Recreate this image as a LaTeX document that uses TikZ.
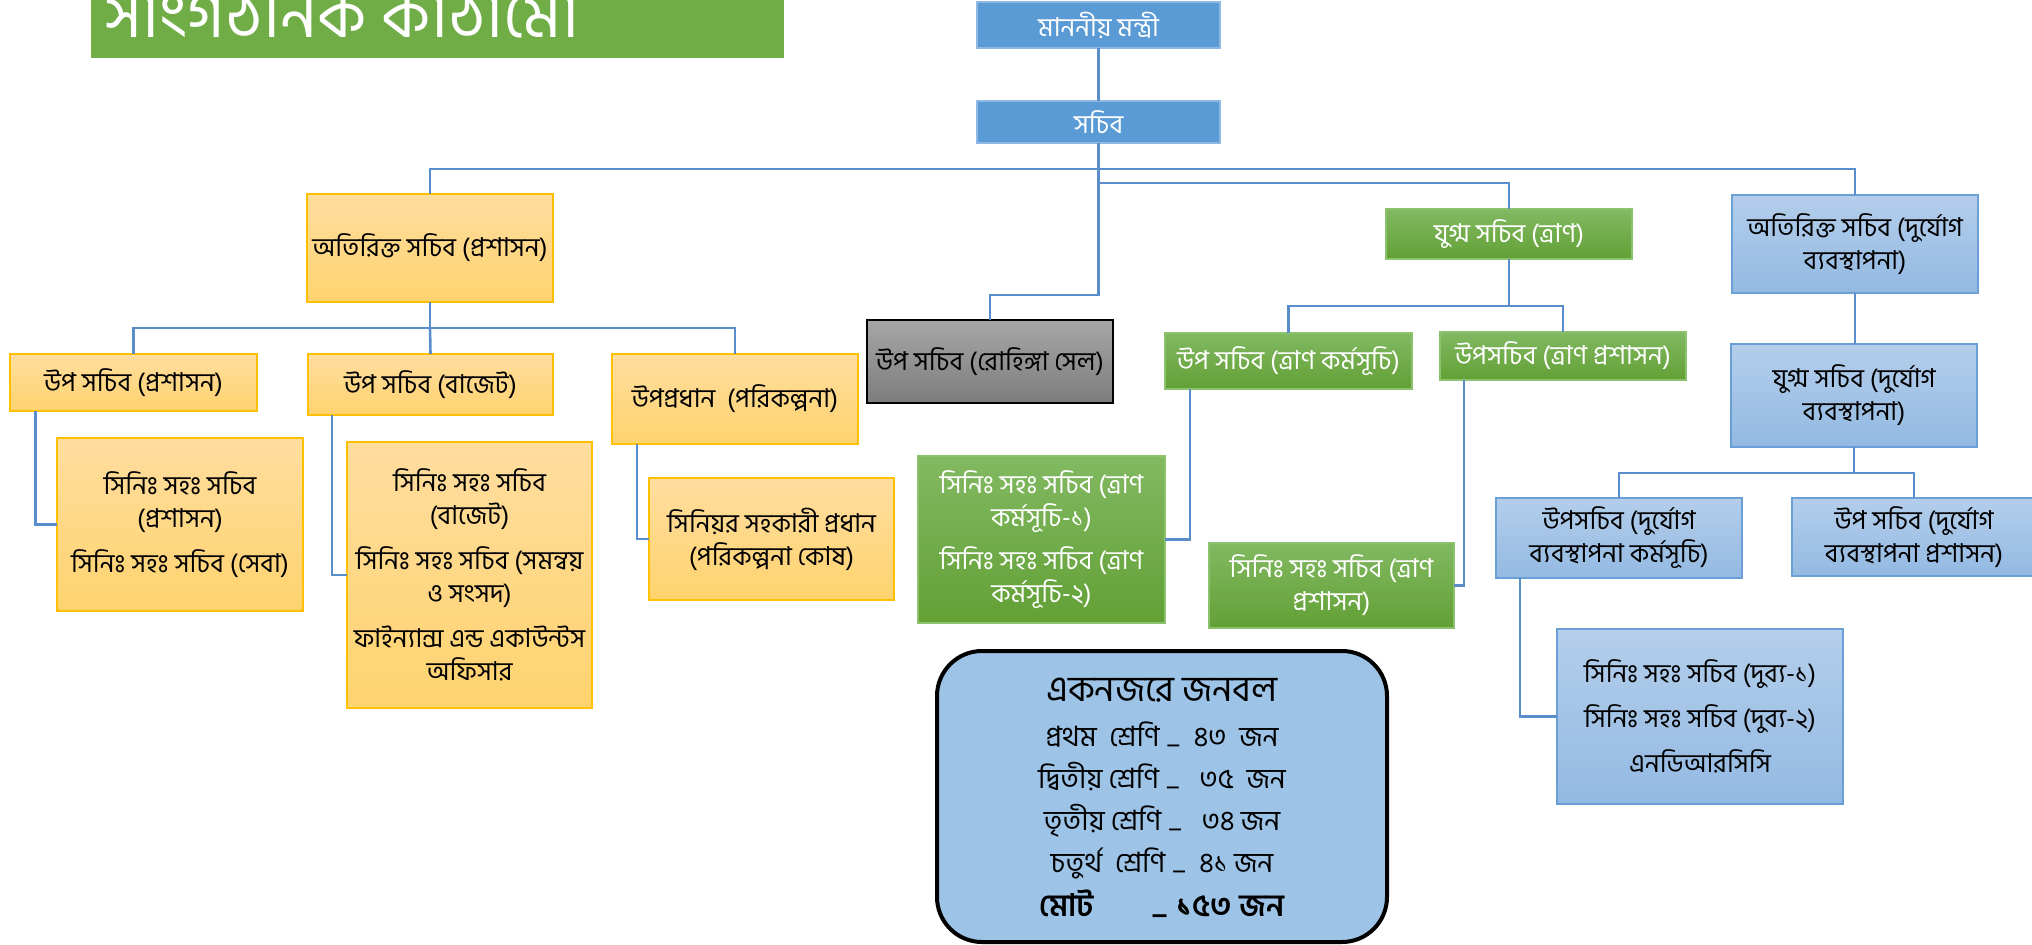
\documentclass[tikz,border=0pt]{standalone}
\usepackage{fontspec}
\newfontfamily\bn[Script=Bengali]{Hind Siliguri}
\usetikzlibrary{calc}
\definecolor{topblue}{HTML}{5B9BD5}
\definecolor{topedge}{HTML}{8FB8E3}
\definecolor{conn}{HTML}{5A8DCB}
\definecolor{orgT}{HTML}{FFDD9F}
\definecolor{orgB}{HTML}{FFD36E}
\definecolor{orgD}{HTML}{FFC000}
\definecolor{grnT}{HTML}{82B962}
\definecolor{grnB}{HTML}{62A035}
\definecolor{grnD}{HTML}{8CC26D}
\definecolor{lbT}{HTML}{B4CEEB}
\definecolor{lbB}{HTML}{93B9E2}
\definecolor{lbD}{HTML}{6A9FD8}
\definecolor{gryT}{HTML}{A6A6A6}
\definecolor{gryB}{HTML}{7D7D7D}
\definecolor{sumfill}{HTML}{9DC3E6}
\definecolor{titlegreen}{HTML}{70AD47}
\newcommand\lbl{\bn\fontsize{26}{33}\selectfont}
\newcommand\lowdash{\raisebox{-0.25em}{–}}
\tikzset{
  box/.style={rectangle, inner sep=0pt, outer sep=0pt, align=center, anchor=north west, font=\lbl, line width=1.3pt},
  bluebox/.style={box, fill=topblue, draw=topedge, text=white},
  orgbox/.style={box, top color=orgT, bottom color=orgB, draw=orgD},
  grnbox/.style={box, top color=grnT, bottom color=grnB, draw=grnD, text=white},
  lbbox/.style={box, top color=lbT, bottom color=lbB, draw=lbD},
  grybox/.style={box, top color=gryT, bottom color=gryB, draw=black},
  conn/.style={draw=conn, line width=2.6pt},
}
\begin{document}
\begin{tikzpicture}[x=1pt, y=-1pt]
\useasboundingbox (0,0) rectangle (2032,945);
\clip (0,0) rectangle (2032,945);
% title
\fill[titlegreen] (91,0) rectangle (784,58);
\node[anchor=base west, inner sep=0pt, text=white, font=\bn\fontsize{66}{70}\selectfont] (title) at (104,37) {সাংগঠনিক কাঠামো};
% boxes
\node[bluebox, minimum width=243pt, minimum height=46pt] (top1) at (977,2) {মাননীয় মন্ত্রী};
\node[bluebox, minimum width=243pt, minimum height=42pt] (top2) at (977,101) {সচিব};
\node[orgbox, minimum width=246pt, minimum height=108pt] (addladmin) at (307,194) {অতিরিক্ত সচিব (প্রশাসন)};
\node[grybox, minimum width=246pt, minimum height=83pt] (gray) at (867,320) {উপ সচিব (রোহিঙ্গা সেল)};
\node[grnbox, minimum width=246pt, minimum height=50pt] (jointrelief) at (1386,209) {যুগ্ম সচিব (ত্রাণ)};
\node[lbbox, minimum width=246pt, minimum height=98pt] (addldm) at (1732,195) {অতিরিক্ত সচিব (দুর্যোগ\\ব্যবস্থাপনা)};
\node[orgbox, minimum width=247pt, minimum height=57pt] (dsadmin) at (10,354) {উপ সচিব (প্রশাসন)};
\node[orgbox, minimum width=245pt, minimum height=61pt] (dsbudget) at (308,354) {উপ সচিব (বাজেট)};
\node[orgbox, minimum width=246pt, minimum height=90pt] (dpplan) at (612,354) {উপপ্রধান\ \ (পরিকল্পনা)};
\node[grnbox, minimum width=247pt, minimum height=56pt] (dsreliefprog) at (1165,333) {উপ সচিব (ত্রাণ কর্মসূচি)};
\node[grnbox, minimum width=246pt, minimum height=48pt] (dsreliefadmin) at (1440,332) {উপসচিব (ত্রাণ প্রশাসন)};
\node[lbbox, minimum width=246pt, minimum height=103pt] (jointdm) at (1731,344) {যুগ্ম সচিব (দুর্যোগ\\ব্যবস্থাপনা)};
\node[lbbox, minimum width=246pt, minimum height=80pt] (dsdmprog) at (1496,498) {উপসচিব (দুর্যোগ\\ব্যবস্থাপনা কর্মসূচি)};
\node[lbbox, minimum width=244pt, minimum height=78pt] (dsdmadmin) at (1792,498) {উপ সচিব (দুর্যোগ\\ব্যবস্থাপনা প্রশাসন)};
\node[orgbox, minimum width=246pt, minimum height=173pt] (sasadmin) at (57,438) {সিনিঃ সহঃ সচিব\\(প্রশাসন)\\[12pt]সিনিঃ সহঃ সচিব (সেবা)};
\node[orgbox, minimum width=245pt, minimum height=266pt] (sasbudget) at (347,442) {সিনিঃ সহঃ সচিব\\(বাজেট)\\[12pt]সিনিঃ সহঃ সচিব (সমন্বয়\\ও সংসদ)\\[12pt]ফাইন্যান্স এন্ড একাউন্টস\\অফিসার};
\node[orgbox, minimum width=245pt, minimum height=122pt] (srasst) at (649,478) {সিনিয়র সহকারী প্রধান\\(পরিকল্পনা কোষ)};
\node[grnbox, minimum width=247pt, minimum height=167pt] (sasreliefprog) at (918,456) {সিনিঃ সহঃ সচিব (ত্রাণ\\কর্মসূচি-১)\\[10pt]সিনিঃ সহঃ সচিব (ত্রাণ\\কর্মসূচি-২)};
\node[grnbox, minimum width=245pt, minimum height=85pt] (sasreliefadmin) at (1209,543) {সিনিঃ সহঃ সচিব (ত্রাণ\\প্রশাসন)};
\node[lbbox, minimum width=286pt, minimum height=175pt, font=\bn\fontsize{26}{45}\selectfont] (sasdm) at (1557,629) {সিনিঃ সহঃ সচিব (দুব্য-১)\\সিনিঃ সহঃ সচিব (দুব্য-২)\\এনডিআরসিসি};
% summary
\node[box, minimum width=450pt, minimum height=291pt, fill=sumfill, draw=black, line width=4pt, rounded corners=45pt] (summary) at (937,651) {};
\node[inner sep=0pt, align=center, font=\bn\fontsize{28}{42}\selectfont] (summarytext) at ([yshift=-5pt]summary.center)
 {{\fontsize{36}{40}\selectfont একনজরে জনবল}\\[3pt]
  প্রথম\ \ শ্রেণি \lowdash\ \ ৪৩\ \ জন\\
  দ্বিতীয় শ্রেণি \lowdash\ \ \ ৩৫\ \ জন\\
  তৃতীয় শ্রেণি \lowdash\ \ \ ৩৪ জন\\
  চতুর্থ\ \ শ্রেণি \lowdash\ \ ৪১ জন\\[2pt]
  {\bfseries\fontsize{31}{34}\selectfont মোট\hspace{58pt}\lowdash\ ১৫৩ জন}};
% connectors
\draw[conn] (top1.south) -- (top2.north);
\draw[conn] (top2.south) -- ++(0,26) coordinate (busA);
\draw[conn] (addladmin.north) |- (busA) -| (addldm.north);
\draw[conn] (busA) -- ++(0,14) -| (jointrelief.north);
\draw[conn] (busA) -- ++(0,126) -| (gray.north);
\draw[conn] (addladmin.south) -- ++(0,26) coordinate (busB);
\draw[conn] (dsadmin.north) |- (busB) -| (dpplan.north);
\draw[conn] (busB) -- (dsbudget.north);
\draw[conn] (jointrelief.south) -- ++(0,47) coordinate (busC);
\draw[conn] (dsreliefprog.north) |- (busC) -| (dsreliefadmin.north);
\draw[conn] (addldm.south) -- (addldm.south |- jointdm.north);
\draw[conn] (jointdm.south) -- ++(0,26) coordinate (busD);
\draw[conn] (dsdmprog.north) |- (busD) -| (dsdmadmin.north);
\draw[conn] ([xshift=25.6pt]dsadmin.south west) |- (sasadmin.west);
\draw[conn] ([xshift=24pt]dsbudget.south west) |- (sasbudget.west);
\draw[conn] ([xshift=25pt]dpplan.south west) |- (srasst.west);
\draw[conn] ([xshift=25pt]dsreliefprog.south west) |- (sasreliefprog.east);
\draw[conn] ([xshift=24pt]dsreliefadmin.south west) |- (sasreliefadmin.east);
\draw[conn] ([xshift=24pt]dsdmprog.south west) |- (sasdm.west);
\end{tikzpicture}
\end{document}
